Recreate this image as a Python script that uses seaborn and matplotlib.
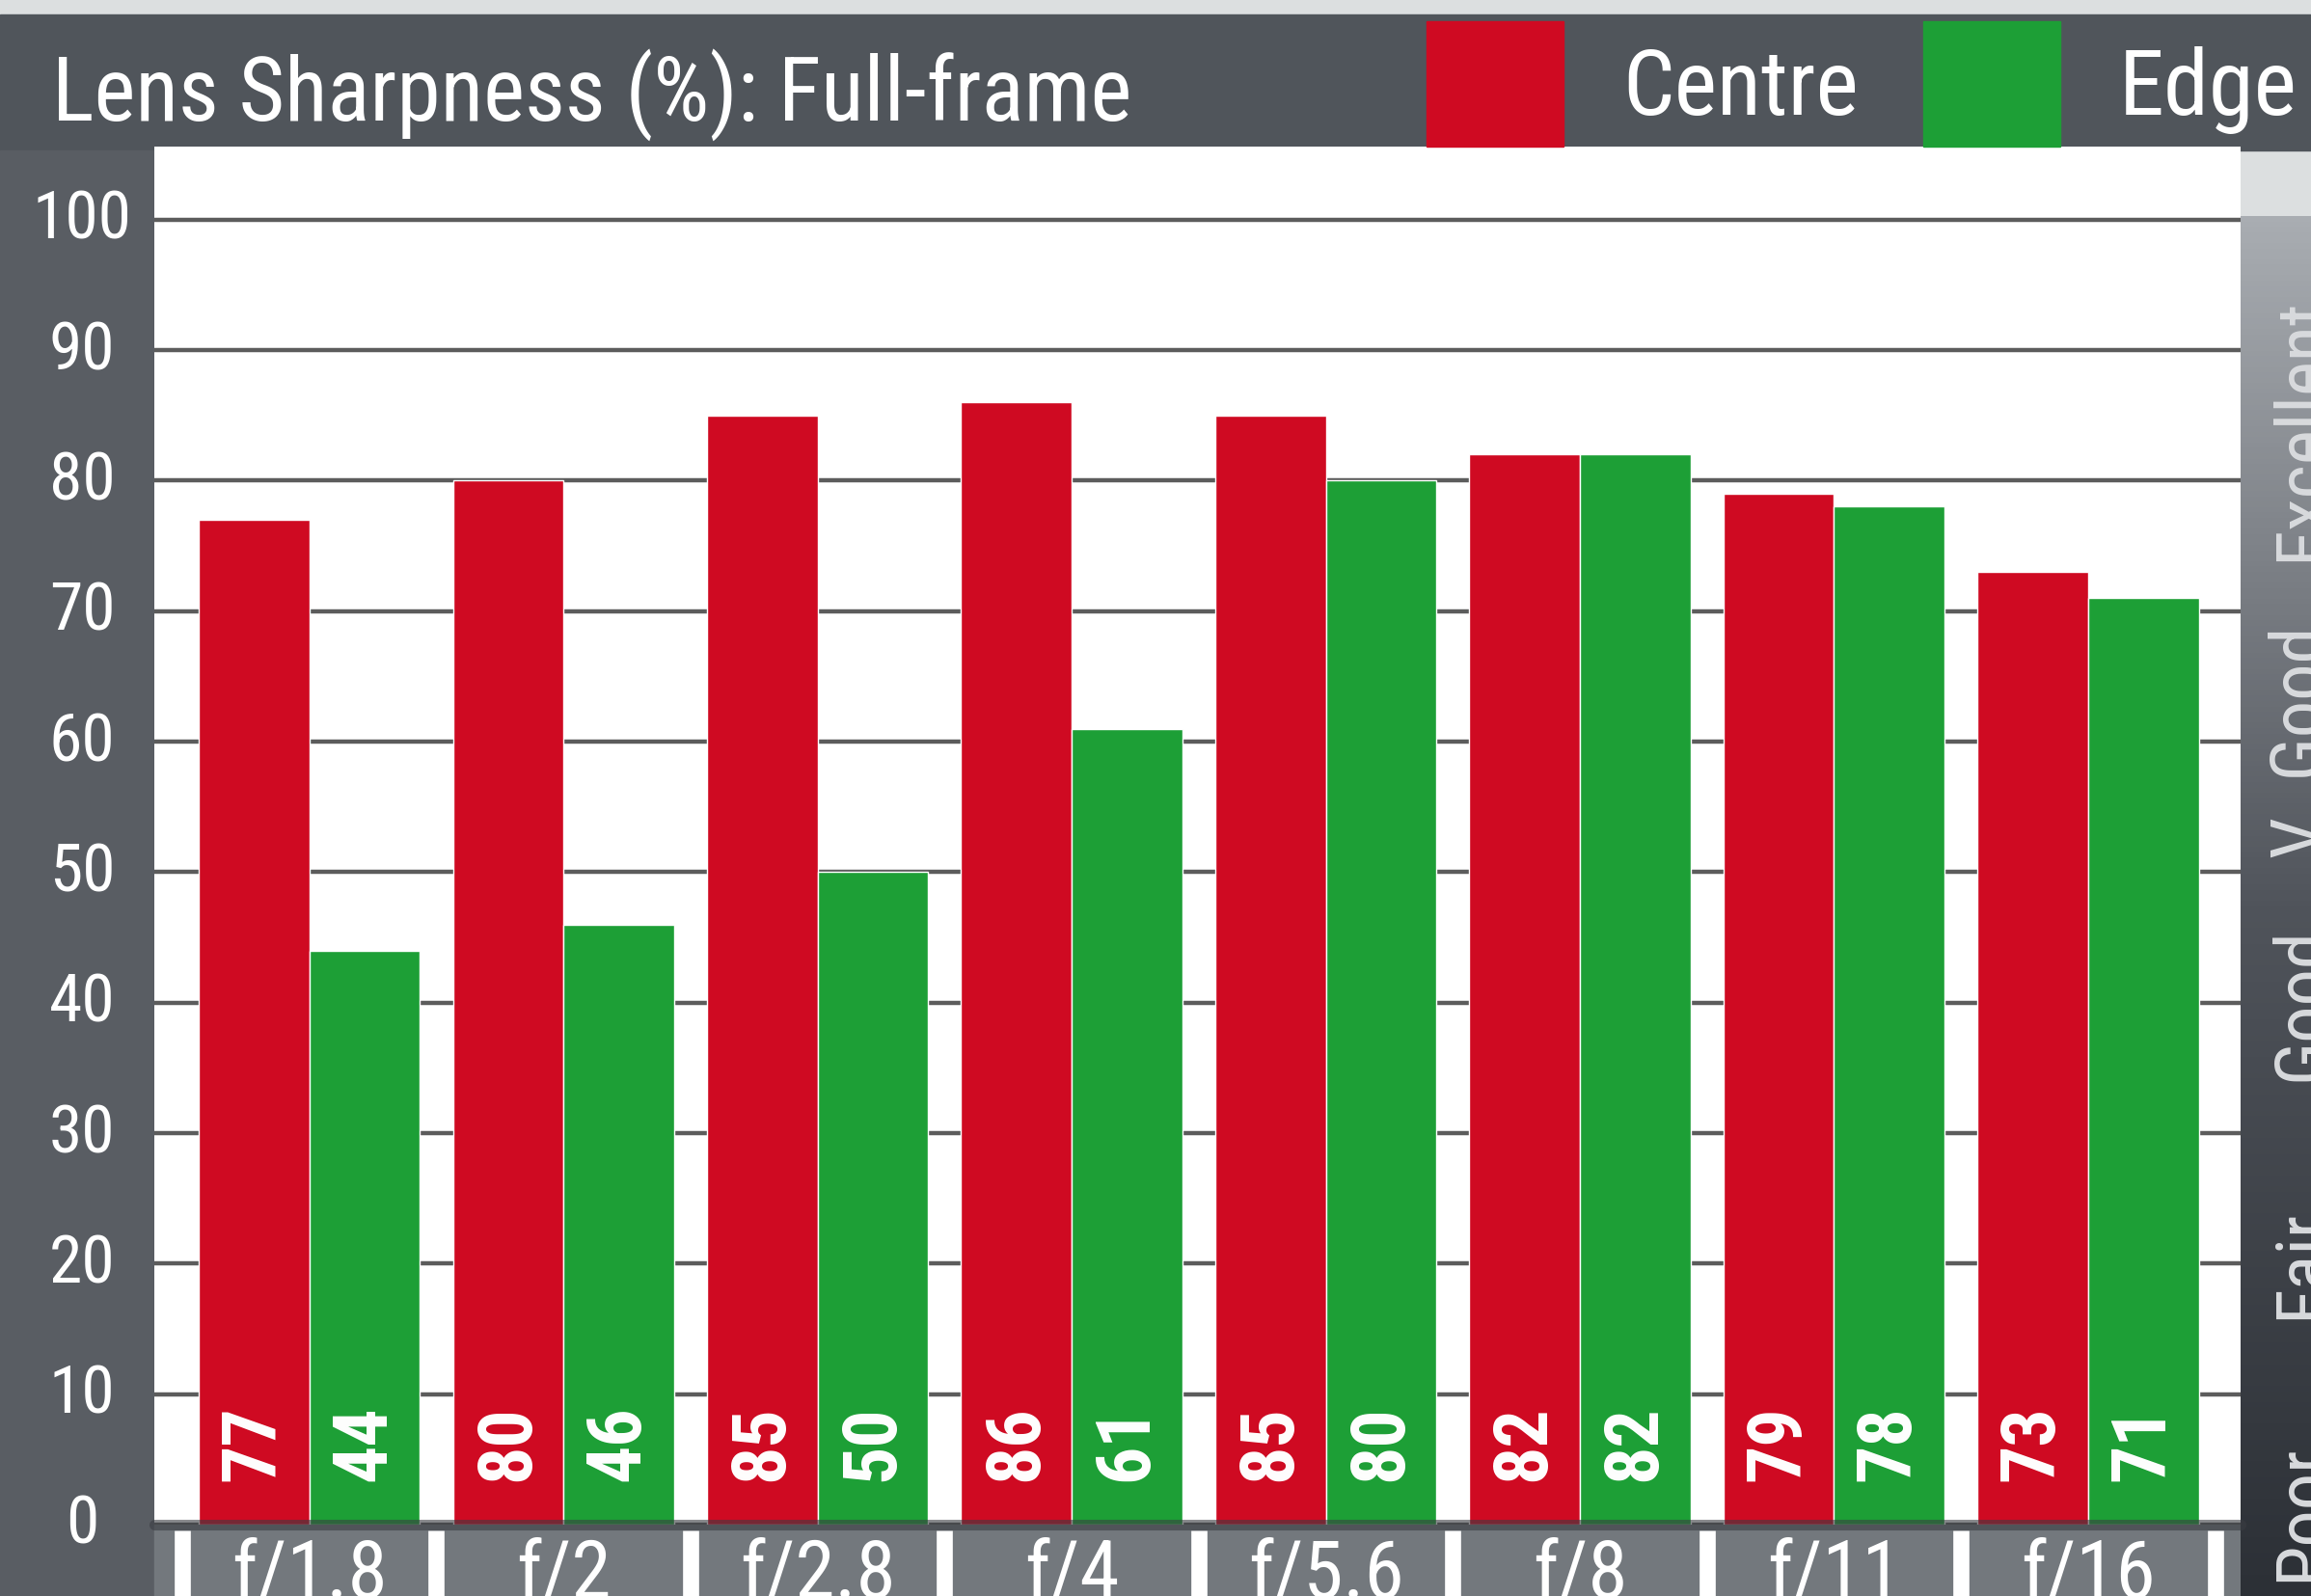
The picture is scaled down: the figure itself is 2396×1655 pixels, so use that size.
import numpy as np
import pandas as pd
import matplotlib
matplotlib.use("Agg")
import matplotlib.pyplot as plt
import matplotlib.font_manager as fm
import matplotlib.transforms as mtransforms
from matplotlib.patches import Rectangle, Patch
import seaborn as sns

# Data
stops = ["f/1.8", "f/2", "f/2.8", "f/4", "f/5.6", "f/8", "f/11", "f/16"]
centre = [77, 80, 85, 86, 85, 82, 79, 73]
edge = [44, 46, 50, 61, 80, 82, 78, 71]
yticks = [0, 10, 20, 30, 40, 50, 60, 70, 80, 90, 100]
scale_labels = ["Poor", "Fair", "Good", "V. Good", "Excellent"]
scale_pos = [1, 20, 40, 60, 84]

df = pd.DataFrame({
    "stop": stops * 2,
    "zone": ["Centre"] * len(stops) + ["Edge"] * len(stops),
    "value": centre + edge,
})

RED = "#cf0a22"
GREEN = "#1d9f36"
DARK = "#50555b"

sns.set_style("white")
names = {f.name for f in fm.fontManager.ttflist}
narrow = next((f for f in ["Liberation Sans Narrow", "DejaVu Sans Condensed",
                           "Roboto Condensed", "Open Sans Condensed"] if f in names), "DejaVu Sans")
plt.rcParams["font.family"] = [narrow, "DejaVu Sans"]

W, H = 2396, 1656
fig = plt.figure(figsize=(W / 100, H / 100), dpi=100)
fig.patch.set_facecolor("#dcdfe0")


def fx(px):
    return px / W


def fy(py):
    return 1 - py / H


# background panels
fig.add_artist(Rectangle((0, fy(157)), 1, fy(16) - fy(157), transform=fig.transFigure,
                         color=DARK, zorder=-2))
fig.add_artist(Rectangle((0, 0), fx(160), fy(157), transform=fig.transFigure,
                         color="#595d63", zorder=-2))
fig.add_artist(Rectangle((fx(160), 0), fx(2323) - fx(160), fy(1582), transform=fig.transFigure,
                         color="#73787d", zorder=-2))

# right rating strip (gradient)
sax = fig.add_axes([fx(2323), 0, fx(2396) - fx(2323), fy(225)])
grad = np.linspace(0, 1, 256).reshape(-1, 1)
sax.imshow(grad, aspect="auto", cmap=sns.blend_palette(["#a9adb2", "#50545b", "#2c3036"], as_cmap=True),
           extent=[0, 1, 0, 1])
sax.axis("off")

ax = fig.add_axes([fx(160), fy(1582), fx(2323) - fx(160), (1582 - 153) / H])
ax.set_zorder(2)
sns.barplot(data=df, x="stop", y="value", hue="zone", palette=[RED, GREEN],
            width=0.87, saturation=1, legend=False, ax=ax)

ax.set_xlim(-0.61, 7.6)
ax.set_ylim(0, 105.6)
ax.set_facecolor("white")
ax.set_yticks(yticks)
ax.yaxis.grid(True, color="#5c5c5c", lw=3.2)
ax.set_axisbelow(True)
for s in ax.spines.values():
    s.set_visible(False)
ax.set_xlabel("")
ax.set_ylabel("")

ax.tick_params(axis="y", length=0, pad=54, labelsize=50, labelcolor="white")
for lbl in ax.get_yticklabels():
    lbl.set_ha("center")
    lbl.set_va("center")
ax.tick_params(axis="x", length=0, pad=9, labelsize=60, labelcolor="white")

# value labels inside bars
for cont, vals in zip(ax.containers, [centre, edge]):
    for bar, v in zip(cont, vals):
        ax.text(bar.get_x() + bar.get_width() / 2, 6.3, f"{v}", rotation=90,
                ha="center", va="center", color="white", fontsize=56, fontweight="bold")

# baseline and separators in the f-stop band
ax.axhline(0, color="#3a3d42", lw=8, alpha=0.6, zorder=3, clip_on=False)
ax.vlines(np.arange(len(stops) + 1) - 0.5, -0.07, -0.004,
          transform=ax.get_xaxis_transform(), color="white", lw=12, clip_on=False)

# rating scale labels on the right strip
trans = mtransforms.blended_transform_factory(fig.transFigure, ax.transData)
for lab, pos in zip(scale_labels, scale_pos):
    ax.text(fx(2352), pos, lab, transform=trans, rotation=90, ha="left", va="center",
            color="#d8dadd", fontsize=55, clip_on=False)

# title and legend in header
fig.text(fx(54), fy(125), "Lens Sharpness (%): Full-frame", color="white",
         fontsize=66, va="baseline", ha="left")
handles = [Patch(color=RED, label="Centre"), Patch(color=GREEN, label="Edge")]
fig.legend(handles=handles, loc="upper left", bbox_to_anchor=(fx(1479), fy(23)),
           ncol=2, frameon=False, fontsize=68, labelcolor="white",
           handlelength=1.5, handleheight=1.74, handletextpad=0.65,
           columnspacing=0.71, borderpad=0, borderaxespad=0)

fig.savefig("out.png", dpi=100)
